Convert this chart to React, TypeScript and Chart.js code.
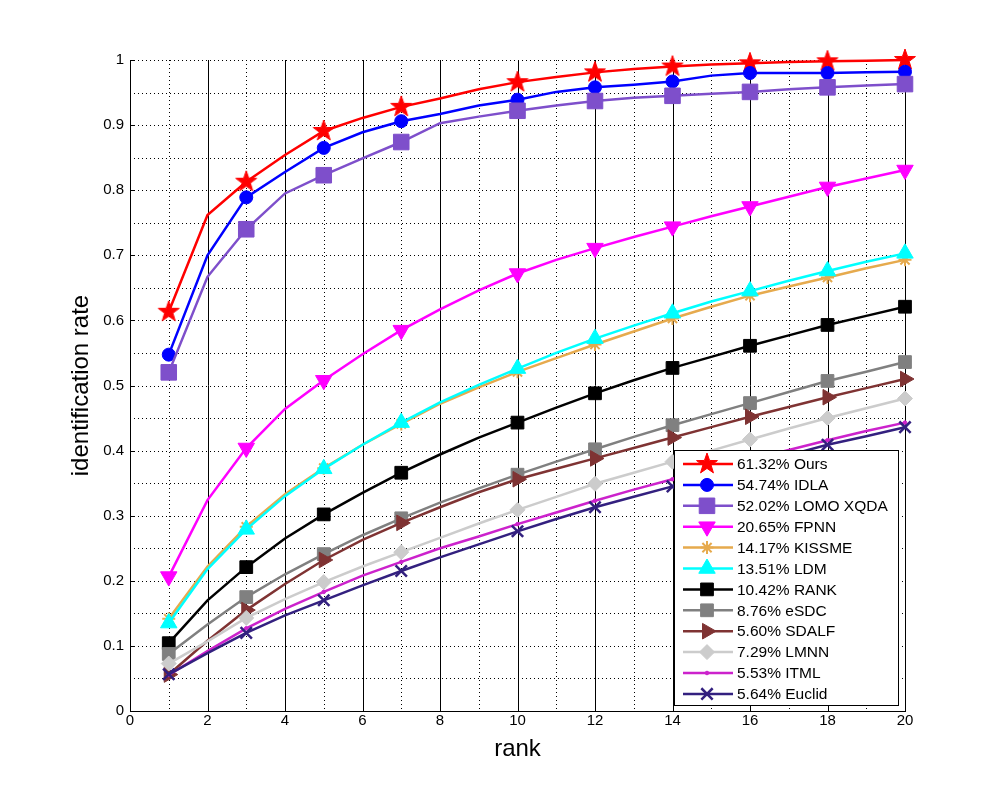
import React, { useEffect, useRef } from 'react';
import { Chart, registerables } from 'chart.js';
import { drawPoint } from 'chart.js/helpers';

Chart.register(...registerables);

// ---------- data ----------
const RANKS = [1, 2, 3, 4, 5, 6, 7, 8, 9, 10, 11, 12, 13, 14, 15, 16, 17, 18, 19, 20];
const MARKER_RANKS = [1, 3, 5, 7, 10, 12, 14, 16, 18, 20];
const X_TICK_LABELS = ['0', '2', '4', '6', '8', '10', '12', '14', '16', '18', '20'];
const Y_TICK_LABELS = ['0', '0.1', '0.2', '0.3', '0.4', '0.5', '0.6', '0.7', '0.8', '0.9', '1'];
const LEGEND_LABELS = [
  '61.32% Ours', '54.74% IDLA', '52.02% LOMO XQDA', '20.65% FPNN', '14.17% KISSME', '13.51% LDM',
  '10.42% RANK', '8.76% eSDC', '5.60% SDALF', '7.29% LMNN', '5.53% ITML', '5.64% Euclid',
];

const OURS = [0.6132, 0.762, 0.813, 0.854, 0.891, 0.911, 0.928, 0.941, 0.955, 0.966, 0.974, 0.981, 0.986, 0.990, 0.993, 0.995, 0.997, 0.998, 0.999, 1.000];
const IDLA = [0.5474, 0.700, 0.789, 0.828, 0.865, 0.889, 0.906, 0.917, 0.930, 0.939, 0.951, 0.958, 0.962, 0.967, 0.976, 0.980, 0.980, 0.980, 0.981, 0.982];
const LOMO_XQDA = [0.5202, 0.667, 0.740, 0.795, 0.823, 0.849, 0.874, 0.903, 0.913, 0.922, 0.930, 0.937, 0.942, 0.945, 0.948, 0.951, 0.955, 0.958, 0.961, 0.963];
const FPNN = [0.2065, 0.324, 0.404, 0.464, 0.508, 0.548, 0.585, 0.617, 0.646, 0.672, 0.693, 0.711, 0.728, 0.744, 0.760, 0.775, 0.790, 0.805, 0.818, 0.831];
const KISSME = [0.1417, 0.222, 0.283, 0.333, 0.373, 0.409, 0.441, 0.472, 0.497, 0.521, 0.542, 0.563, 0.583, 0.603, 0.621, 0.638, 0.652, 0.666, 0.680, 0.693];
const LDM = [0.1351, 0.218, 0.279, 0.330, 0.372, 0.409, 0.443, 0.474, 0.501, 0.526, 0.550, 0.572, 0.592, 0.611, 0.629, 0.645, 0.661, 0.676, 0.690, 0.703];
const RANK = [0.1042, 0.170, 0.221, 0.265, 0.302, 0.335, 0.366, 0.394, 0.420, 0.443, 0.466, 0.488, 0.508, 0.527, 0.544, 0.561, 0.577, 0.593, 0.607, 0.621];
const ESDC = [0.0876, 0.133, 0.175, 0.210, 0.241, 0.270, 0.296, 0.320, 0.342, 0.363, 0.383, 0.402, 0.421, 0.439, 0.456, 0.473, 0.490, 0.507, 0.521, 0.536];
const SDALF = [0.0560, 0.108, 0.155, 0.195, 0.232, 0.263, 0.289, 0.313, 0.336, 0.356, 0.372, 0.388, 0.404, 0.420, 0.436, 0.452, 0.467, 0.482, 0.496, 0.510];
const LMNN = [0.0729, 0.107, 0.143, 0.172, 0.198, 0.222, 0.244, 0.266, 0.288, 0.309, 0.329, 0.349, 0.366, 0.383, 0.400, 0.417, 0.434, 0.450, 0.465, 0.480];
const ITML = [0.0553, 0.092, 0.127, 0.157, 0.183, 0.208, 0.229, 0.250, 0.268, 0.287, 0.305, 0.323, 0.340, 0.356, 0.371, 0.386, 0.401, 0.416, 0.430, 0.443];
const EUCLID = [0.0564, 0.089, 0.120, 0.147, 0.170, 0.193, 0.215, 0.236, 0.256, 0.276, 0.295, 0.313, 0.329, 0.345, 0.361, 0.377, 0.393, 0.409, 0.422, 0.436];

const SERIES_VALUES = [OURS, IDLA, LOMO_XQDA, FPNN, KISSME, LDM, RANK, ESDC, SDALF, LMNN, ITML, EUCLID];

// ---------- styles ----------
const COLORS = ['#FF0000', '#0000FF', '#7E4FCB', '#FF00FF', '#E6AA4D', '#00FFFF', '#000000', '#808080', '#7F3333', '#CCCCCC', '#CC22CC', '#33207F'];
const POINT_STYLES = ['STAR', 'circle', 'rect', 'triangle', 'star', 'triangle', 'rect', 'rect', 'triangle', 'rectRot', 'circle', 'crossRot'];
const POINT_ROTATIONS = [0, 0, 0, 180, 0, 0, 0, 0, 90, 0, 0, 0];
const POINT_RADII = [11, 6.5, 11, 9.5, 6.5, 9.5, 9, 9, 9, 7.5, 1.8, 8];
const POINT_BORDERS = [1, 1, 1, 1, 2, 1, 1, 1, 1, 1, 1, 2.5];

const FONT = "'Liberation Sans', Arial, sans-serif";

function makeStar(color: string, outer: number, inner: number): HTMLCanvasElement {
  const size = Math.ceil(outer * 2 + 4);
  const c = document.createElement('canvas');
  c.width = size;
  c.height = size;
  const g = c.getContext('2d')!;
  g.translate(size / 2, size / 2);
  g.beginPath();
  for (let k = 0; k < 10; k++) {
    const r = k % 2 ? inner : outer;
    const a = -Math.PI / 2 + (k * Math.PI) / 5;
    g.lineTo(r * Math.cos(a), r * Math.sin(a));
  }
  g.closePath();
  g.fillStyle = color;
  g.fill();
  g.strokeStyle = color;
  g.lineWidth = 1;
  g.stroke();
  return c;
}

export default function App() {
  const ref = useRef<HTMLCanvasElement>(null);

  useEffect(() => {
    const star = makeStar(COLORS[0], 11, 4.4);
    const styleOf = (i: number): any => (POINT_STYLES[i] === 'STAR' ? star : POINT_STYLES[i]);

    const datasets = SERIES_VALUES.map((vals, i) => ({
      label: LEGEND_LABELS[i],
      data: RANKS.map((r, j) => ({ x: r, y: vals[j] })),
      borderColor: COLORS[i],
      backgroundColor: COLORS[i],
      borderWidth: 2.5,
      tension: 0,
      pointStyle: styleOf(i),
      pointRotation: POINT_ROTATIONS[i],
      pointRadius: (c: any) => (MARKER_RANKS.includes(RANKS[c.dataIndex]) ? POINT_RADII[i] : 0),
      pointBorderWidth: POINT_BORDERS[i],
      pointBorderColor: COLORS[i],
      pointBackgroundColor: COLORS[i],
      clip: false as any,
      order: -i,
    }));

    const gridPlugin = {
      id: 'matlabGrid',
      beforeDatasetsDraw(chart: any) {
        const { ctx, chartArea, scales } = chart;
        const xs = scales.x;
        const ys = scales.y;
        ctx.save();
        ctx.strokeStyle = '#000';
        ctx.lineWidth = 1;
        // horizontal dotted grid every 0.05
        ctx.setLineDash([1, 3]);
        for (let k = 1; k <= 20; k++) {
          const py = Math.round(ys.getPixelForValue(k * 0.05)) + 0.5;
          ctx.beginPath();
          ctx.moveTo(chartArea.left, py);
          ctx.lineTo(chartArea.right, py);
          ctx.stroke();
        }
        // vertical grid: dotted at odd ranks, solid at even ranks
        for (let r = 1; r <= 20; r++) {
          const px = Math.round(xs.getPixelForValue(r)) + 0.5;
          ctx.setLineDash(r % 2 ? [1, 3] : []);
          ctx.beginPath();
          ctx.moveTo(px, chartArea.top);
          ctx.lineTo(px, chartArea.bottom);
          ctx.stroke();
        }
        // inward ticks on left axis
        ctx.setLineDash([]);
        for (let k = 0; k <= 10; k++) {
          const py = Math.round(ys.getPixelForValue(k * 0.1)) + 0.5;
          ctx.beginPath();
          ctx.moveTo(chartArea.left, py);
          ctx.lineTo(chartArea.left + 5, py);
          ctx.stroke();
        }
        ctx.restore();
      },
    };

    const legendPlugin = {
      id: 'matlabLegend',
      afterDraw(chart: any) {
        const { ctx, chartArea } = chart;
        const right = chartArea.right - 7;
        const bottom = chartArea.bottom - 6;
        const w = 224;
        const h = 255;
        const left = right - w;
        const top = bottom - h;
        ctx.save();
        ctx.fillStyle = '#fff';
        ctx.fillRect(left, top, w, h);
        ctx.strokeStyle = '#000';
        ctx.lineWidth = 1;
        ctx.setLineDash([]);
        ctx.strokeRect(left + 0.5, top + 0.5, w, h);
        const rowH = 20.9;
        LEGEND_LABELS.forEach((label, i) => {
          const y = top + 14 + i * rowH;
          ctx.strokeStyle = COLORS[i];
          ctx.fillStyle = COLORS[i];
          ctx.lineWidth = 2.5;
          ctx.beginPath();
          ctx.moveTo(left + 9, y);
          ctx.lineTo(left + 59, y);
          ctx.stroke();
          ctx.lineWidth = POINT_BORDERS[i];
          drawPoint(ctx, {
            pointStyle: styleOf(i),
            rotation: POINT_ROTATIONS[i],
            radius: POINT_RADII[i],
            borderWidth: POINT_BORDERS[i],
          } as any, left + 33, y);
          ctx.fillStyle = '#000';
          ctx.font = `15.5px ${FONT}`;
          ctx.textAlign = 'left';
          ctx.textBaseline = 'middle';
          ctx.fillText(label, left + 63, y + 1);
        });
        ctx.restore();
      },
    };

    const chart = new Chart(ref.current!, {
      type: 'line',
      data: { datasets: datasets as any },
      options: {
        responsive: false,
        animation: false,
        events: [],
        layout: { padding: { left: 0, top: 60, right: 95, bottom: 0 } },
        plugins: { legend: { display: false }, tooltip: { enabled: false } },
        scales: {
          x: {
            type: 'linear',
            min: 0,
            max: 20,
            afterFit: (s: any) => { s.height = 89; },
            grid: { drawOnChartArea: false, drawTicks: false },
            border: { display: true, color: '#000', width: 1 },
            ticks: {
              stepSize: 2,
              padding: 1,
              color: '#000',
              font: { family: FONT, size: 15 },
              callback: (_v: any, i: number) => X_TICK_LABELS[i],
            },
            title: {
              display: true,
              text: 'rank',
              color: '#000',
              font: { family: FONT, size: 24 },
              padding: { top: 0, bottom: 36 },
            },
          },
          y: {
            type: 'linear',
            min: 0,
            max: 1,
            afterFit: (s: any) => { s.width = 130; },
            grid: { drawOnChartArea: false, drawTicks: false },
            border: { display: true, color: '#000', width: 1 },
            ticks: {
              stepSize: 0.1,
              padding: 6,
              color: '#000',
              font: { family: FONT, size: 15 },
              callback: (_v: any, i: number) => Y_TICK_LABELS[i],
            },
            title: {
              display: true,
              text: 'identification rate',
              color: '#000',
              font: { family: FONT, size: 24 },
              padding: { top: 67, bottom: 0 },
            },
          },
        },
      },
      plugins: [gridPlugin, legendPlugin],
    });
    return () => chart.destroy();
  }, []);

  return (
    <div style={{ position: 'absolute', left: 0, top: 0, width: 1000, height: 800, background: '#fff' }}>
      <canvas ref={ref} width={1000} height={800} style={{ display: 'block' }} />
    </div>
  );
}
